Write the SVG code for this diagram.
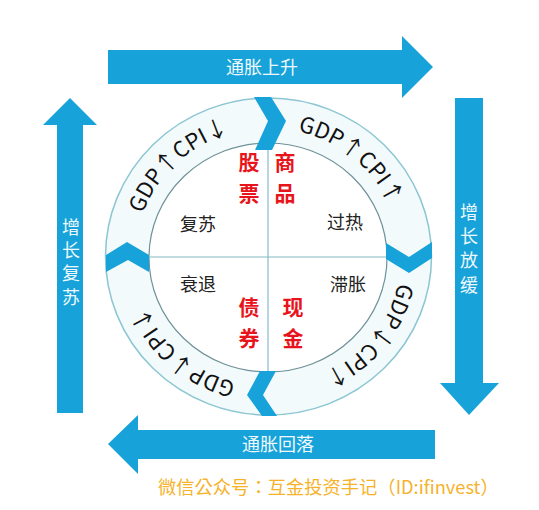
<svg xmlns="http://www.w3.org/2000/svg" width="539" height="510" viewBox="0 0 539 510">
<style>
.arrow{fill:#17a3d9}
.atext{fill:#eef8fc;font-family:"Noto Sans CJK SC","Noto Sans",sans-serif;font-size:18px}
.chev{fill:#17a3d9}
.arc{font-family:"Noto Sans CJK SC","Noto Sans",sans-serif;font-size:22px;fill:#111}
.q{font-family:"Noto Sans CJK SC",sans-serif;font-size:18px;fill:#222}
.r{font-family:"Noto Sans CJK SC",sans-serif;font-size:21px;font-weight:bold;fill:#e8141b}
</style>
<defs>
<path id="tp" d="M 401,257 A 133,129 0 1,1 135,257 A 133,129 0 1,1 401,257"/>
</defs>
<rect width="539" height="510" fill="#ffffff"/>
<g id="arrow-top">
<polygon class="arrow" points="108,50 402,50 402,36 433,67 402,98 402,84 108,84"/>
<text class="atext" x="262" y="74" text-anchor="middle">通胀上升</text>
</g>
<g id="arrow-right">
<polygon class="arrow" points="455,98 483,98 483,383 499,383 469,415 440,383 455,383"/>
<text class="atext" x="469" y="219" text-anchor="middle">增</text>
<text class="atext" x="469" y="243" text-anchor="middle">长</text>
<text class="atext" x="469" y="267" text-anchor="middle">放</text>
<text class="atext" x="469" y="292" text-anchor="middle">缓</text>
</g>
<g id="arrow-bottom">
<polygon class="arrow" points="435,430 435,459 138,459 138,474 108,444 138,415 138,430"/>
<text class="atext" x="278" y="451" text-anchor="middle">通胀回落</text>
</g>
<g id="arrow-left">
<polygon class="arrow" points="57,413 57,125 43,125 70,98 97,125 83,125 83,413"/>
<text class="atext" x="71" y="234" text-anchor="middle">增</text>
<text class="atext" x="71" y="257" text-anchor="middle">长</text>
<text class="atext" x="71" y="280" text-anchor="middle">复</text>
<text class="atext" x="71" y="304" text-anchor="middle">苏</text>
</g>
<g id="clock">
<ellipse cx="268.5" cy="256.5" rx="163" ry="158.5" fill="#f3fafc" stroke="#8cc6d2" stroke-width="1.5"/>
<ellipse cx="268" cy="257.5" rx="119" ry="114.5" fill="#ffffff" stroke="#6f9199" stroke-width="1.2"/>
<line x1="268" y1="143" x2="268" y2="372" stroke="#86bcc6" stroke-width="1.2"/>
<line x1="149" y1="257" x2="387" y2="257" stroke="#86bcc6" stroke-width="1.2"/>
</g>
<g id="connectors">
<polygon class="chev" points="254,97 271,97 286,121 272,150 255,150 268,121"/>
<polygon class="chev" points="386,243 409,257 432,242 432,258 409,273 386,259"/>
<polygon class="chev" points="260,371 276,371 263,395 277,416 262,416 247,395"/>
<polygon class="chev" points="106,255 127,242 149,255 149,272 128,260 106,272"/>
</g>
<g id="arc-labels">
<text class="arc" text-anchor="middle"><textPath href="#tp" startOffset="62.8%">GDP↑CPI↓</textPath></text>
<text class="arc" text-anchor="middle"><textPath href="#tp" startOffset="86.1%">GDP↑CPI↑</textPath></text>
<text class="arc" text-anchor="middle"><textPath href="#tp" startOffset="10.6%">GDP↓CPI↑</textPath></text>
<text class="arc" text-anchor="middle"><textPath href="#tp" startOffset="36.4%">GDP↓CPI↓</textPath></text>
</g>
<g id="q-recovery"><text class="q" x="198" y="231" text-anchor="middle">复苏</text></g>
<g id="q-overheat"><text class="q" x="345" y="229" text-anchor="middle">过热</text></g>
<g id="q-recession"><text class="q" x="198" y="291" text-anchor="middle">衰退</text></g>
<g id="q-stagflation"><text class="q" x="348" y="291" text-anchor="middle">滞胀</text></g>
<g id="asset-stocks"><text class="r" x="249" y="170" text-anchor="middle">股</text><text class="r" x="249" y="201" text-anchor="middle">票</text></g>
<g id="asset-commodities"><text class="r" x="285" y="170" text-anchor="middle">商</text><text class="r" x="285" y="201" text-anchor="middle">品</text></g>
<g id="asset-bonds"><text class="r" x="249" y="315" text-anchor="middle">债</text><text class="r" x="249" y="346" text-anchor="middle">券</text></g>
<g id="asset-cash"><text class="r" x="293" y="315" text-anchor="middle">现</text><text class="r" x="293" y="346" text-anchor="middle">金</text></g>
<text x="158" y="494" font-family="'Noto Sans CJK TC','Noto Sans',sans-serif" font-size="18.3" fill="#f6b22b">微信公众号：互金投资手记（ID:ifinvest）</text>
</svg>
